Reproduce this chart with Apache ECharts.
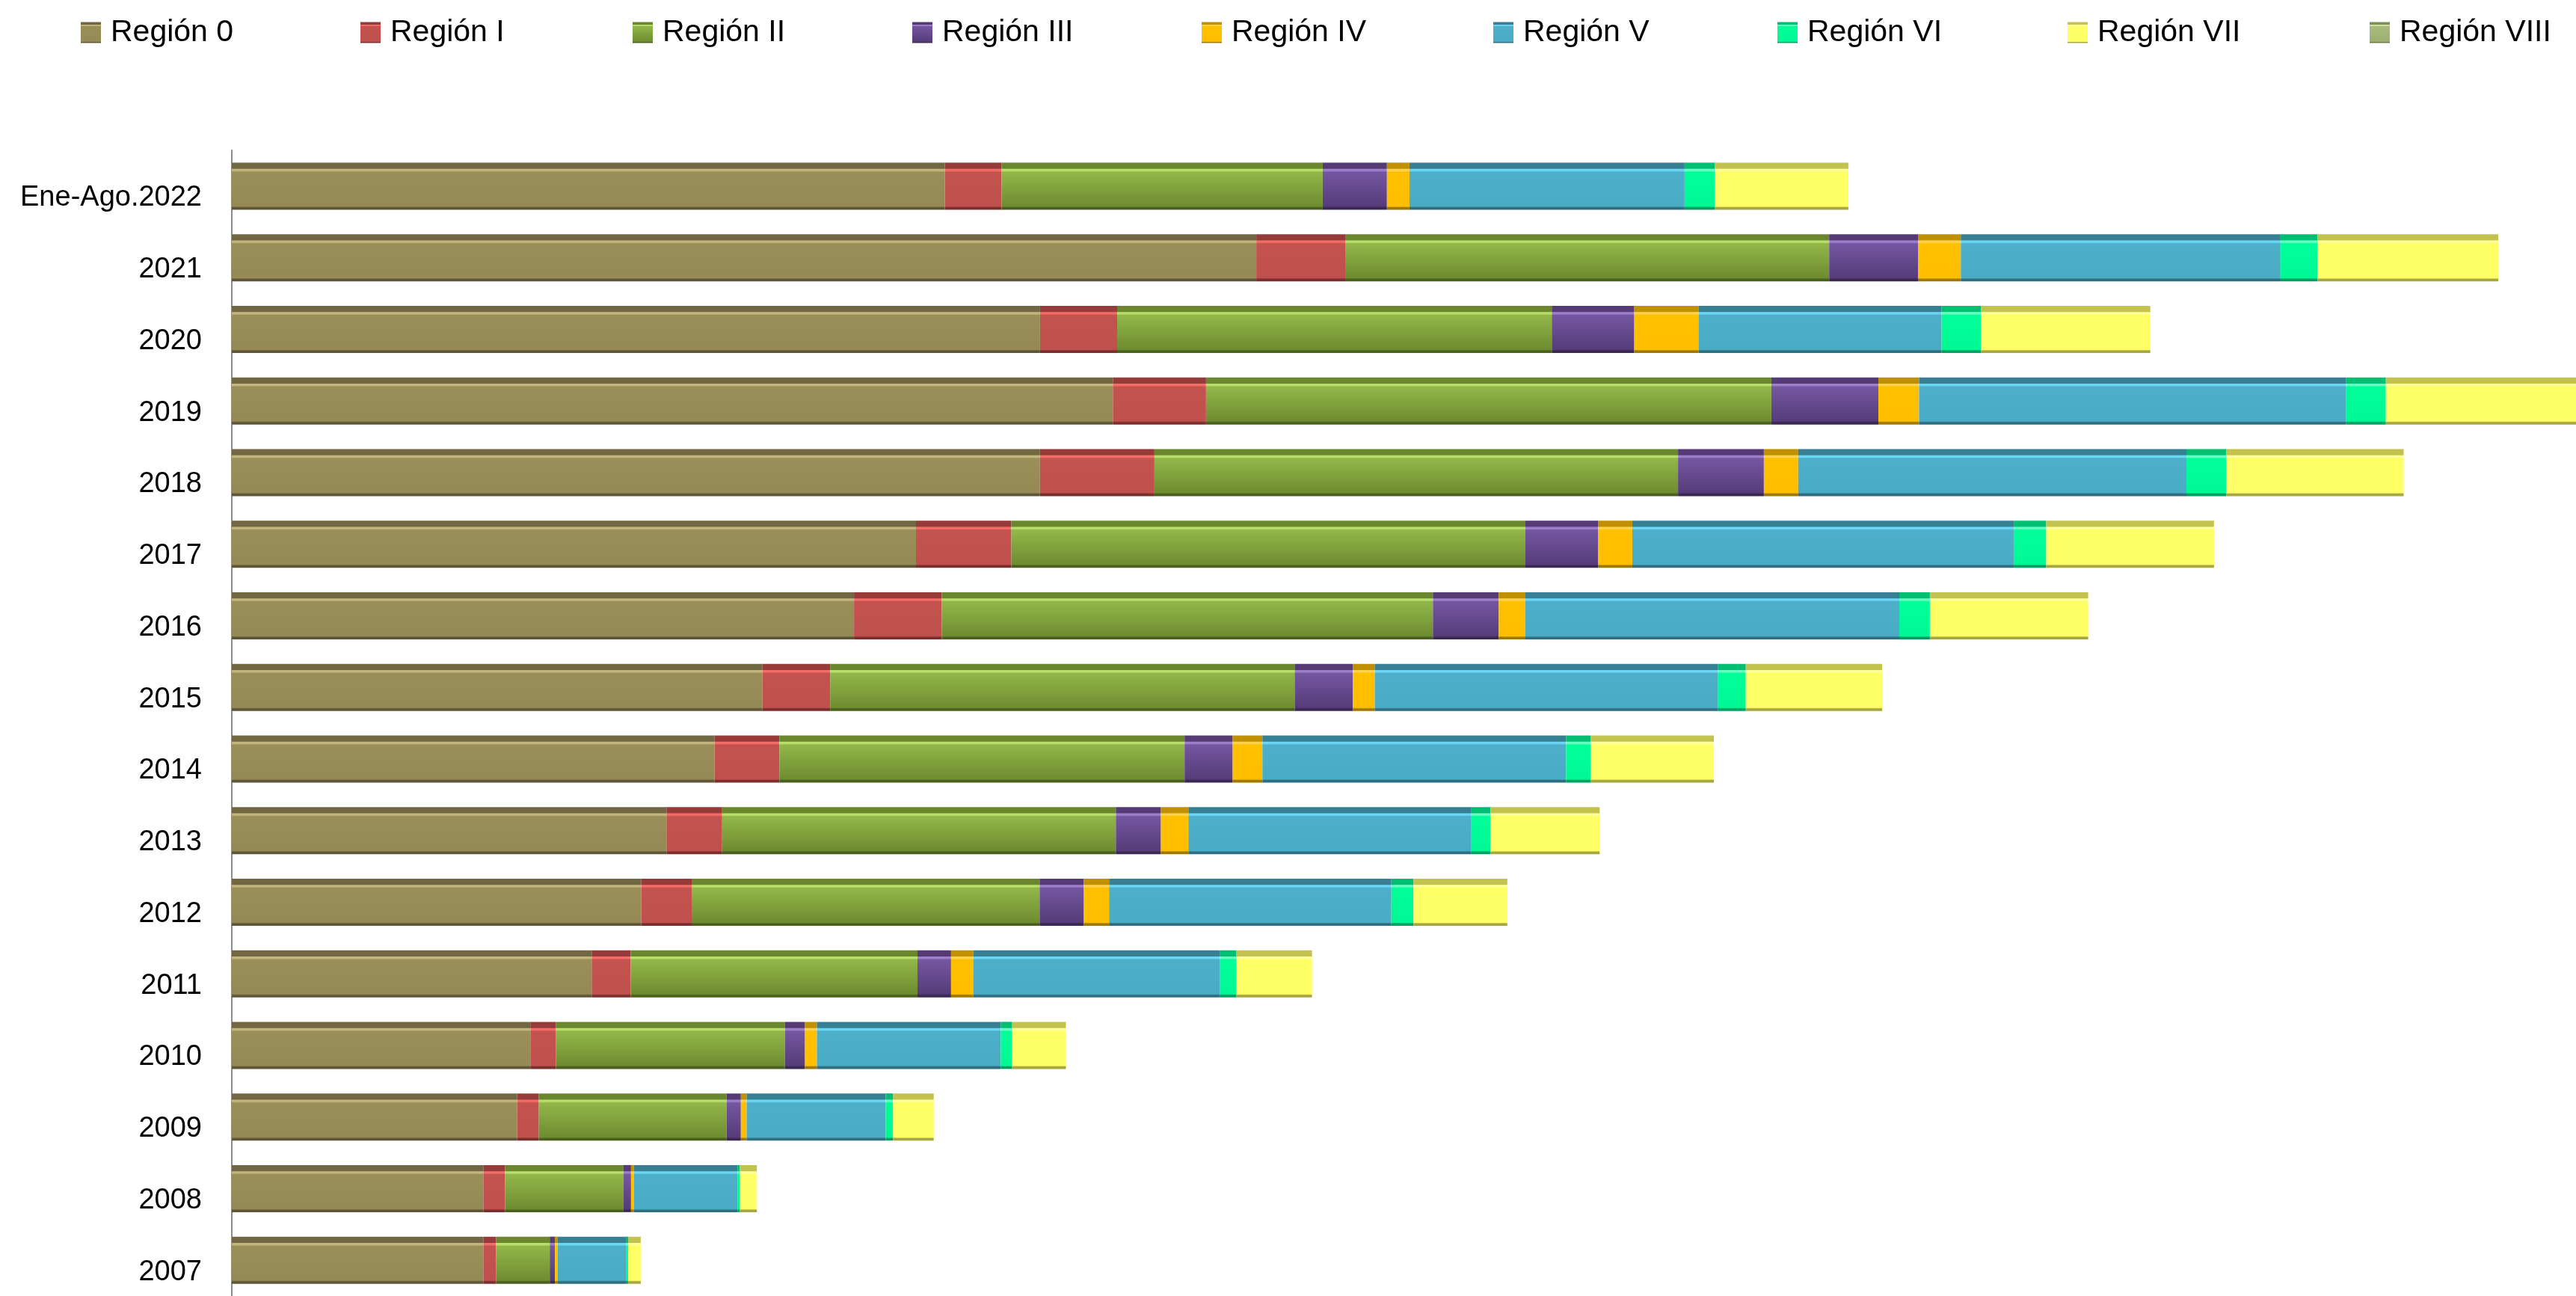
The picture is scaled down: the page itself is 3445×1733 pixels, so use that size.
<!DOCTYPE html>
<html>
<head>
<meta charset="utf-8">
<script src="https://cdn.jsdelivr.net/npm/echarts@6/dist/echarts.min.js"></script>
<style>
html,body{margin:0;padding:0;background:#fff;}
#chart{width:3445px;height:1733px;}
</style>
</head>
<body>
<div id="chart"></div>
<script>
// Categories (top to bottom)
const categories = ['Ene-Ago.2022','2021','2020','2019','2018','2017','2016','2015','2014','2013','2012','2011','2010','2009','2008','2007'];
const seriesNames = ['Región 0','Región I','Región II','Región III','Región IV','Región V','Región VI','Región VII','Región VIII'];

// Values per region (arbitrary units)
const region0 = [953.5, 1370.1, 1080.9, 1178.3, 1080.8, 915, 832.1, 709.5, 645.6, 581.3, 547.6, 481.3, 399.9, 381.6, 336.4, 336.4];
const region1 = [75.9, 118.9, 103.1, 124.6, 153.1, 127.5, 117.3, 90.7, 86.7, 74.5, 67.4, 52.1, 33.7, 29, 29.1, 16.9];
const region2 = [429.5, 647.2, 581.3, 756, 700.2, 687.5, 656.9, 621.2, 541.9, 526.5, 465.3, 383.6, 306.1, 251.1, 158.4, 71.9];
const region3 = [85.9, 118.8, 110.3, 143.1, 114.8, 97, 88, 77.8, 64.3, 60.2, 59.2, 44.9, 26.8, 19.1, 10, 6.9];
const region4 = [30.1, 57.3, 85.9, 54.4, 45.9, 45.9, 35.7, 29.3, 39.8, 36.8, 33.7, 29.6, 16, 7.7, 3.8, 3.8];
const region5 = [368, 426.7, 325, 571.3, 519.2, 510.2, 500, 459.2, 406.1, 378.5, 377.5, 329.6, 245.8, 185.9, 138.5, 91.1];
const region6 = [40.1, 50.1, 53, 53, 53.5, 43.4, 40.9, 37, 32.6, 25.5, 29.6, 22.5, 15.3, 10, 3.1, 3];
const region7 = [178.9, 241.9, 226.2, 280, 237, 224.4, 211.7, 182.4, 165, 146, 125.5, 101, 71.9, 54.3, 22.9, 16.9];
const region8 = [0, 0, 0, 0, 0, 0, 0, 0, 0, 0, 0, 0, 0, 0, 0, 0];
const allValues = [region0, region1, region2, region3, region4, region5, region6, region7, region8];

// colour sets: dark top band, highlight, body top, body bottom, bottom edge
const palette = [
  ['#716843','#C3B57D','#9A8F58','#958A55','#5E5636'],
  ['#963B39','#F26C68','#C4534F','#C0504D','#7A2F2D'],
  ['#6A872D','#B8DE6C','#92B749','#6E8C30','#4A611E'],
  ['#553A75','#9E7ECB','#7556A1','#553C79','#3B2854'],
  ['#C09000','#FFD24D','#FFC000','#FFBF00','#A07800'],
  ['#377F93','#6AD6F4','#4EAFCA','#4AABC5','#2F6E80'],
  ['#00BF73','#66FFC2','#00FF99','#00F894','#00A060'],
  ['#C4C24F','#FFFF99','#FFFF66','#FFFF66','#A8A640'],
  ['#7E8F56','#D2E0A8','#A9BB7D','#9DAF70','#6A7A45']
];
function grad(p){
  return new echarts.graphic.LinearGradient(0,0,0,1,[
    {offset:0,color:p[0]},{offset:0.125,color:p[0]},
    {offset:0.14,color:p[1]},{offset:0.175,color:p[1]},
    {offset:0.2,color:p[2]},{offset:0.93,color:p[3]},
    {offset:0.955,color:p[4]},{offset:1,color:p[4]}
  ]);
}

const legendX = [108, 482, 846, 1220, 1607, 1997, 2377, 2765, 3169];
const legends = seriesNames.map((n,i)=>({
  data:[n], left: legendX[i], top: 23, padding:0, icon:'rect', itemWidth:27, itemHeight:28,
  textStyle:{fontFamily:'Liberation Sans', fontSize:41, color:'#000', padding:[0,0,0,8]},
  selectedMode:false
}));

const chart = echarts.init(document.getElementById('chart'));
chart.setOption({
  animation:false,
  backgroundColor:'#fff',
  legend: legends,
  grid:{left:310, right:0, top:201, bottom:0, containLabel:false},
  xAxis:{type:'value', min:0, max:3135, show:false},
  yAxis:{type:'category', data:categories, inverse:true,
    axisLine:{show:true, lineStyle:{color:'#8C8C8C', width:2}},
    axisTick:{show:false}, splitLine:{show:false},
    axisLabel:{fontFamily:'Liberation Sans', fontSize:38, color:'#000', margin:40,
      verticalAlign:'top', lineHeight:32}
  },
  series: seriesNames.map((n,i)=>({
    name:n, type:'bar', stack:'total', barWidth:63, clip:true,
    data: allValues[i],
    itemStyle:{color: grad(palette[i])}
  }))
});
</script>
</body>
</html>
